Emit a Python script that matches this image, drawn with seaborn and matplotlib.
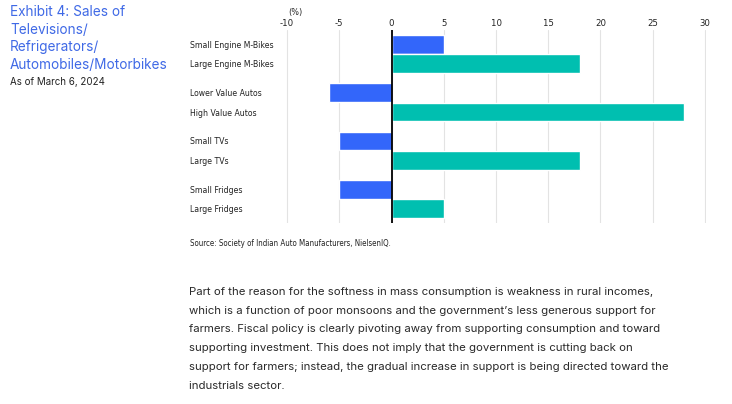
import pandas as pd
import matplotlib.pyplot as plt
import seaborn as sns

sns.set_style('white')
plt.rcParams['font.family'] = ['Inter', 'DejaVu Sans']
plt.rcParams['axes.unicode_minus'] = False

# Data read from the exhibit (% change)
groups = ['Motorbikes', 'Autos', 'TVs', 'Fridges']
sizes = ['Small', 'Large']
bar_labels = ['Small Engine M-Bikes', 'Large Engine M-Bikes',
              'Lower Value Autos', 'High Value Autos',
              'Small TVs', 'Large TVs',
              'Small Fridges', 'Large Fridges']
values = [5, 18, -6, 28, -5, 18, -5, 5]
x_ticks = [-10, -5, 0, 5, 10, 15, 20, 25, 30]

paragraph_lines = [
    "Part of the reason for the softness in mass consumption is weakness in rural incomes,",
    "which is a function of poor monsoons and the government\u2019s less generous support for",
    "farmers. Fiscal policy is clearly pivoting away from supporting consumption and toward",
    "supporting investment. This does not imply that the government is cutting back on",
    "support for farmers; instead, the gradual increase in support is being directed toward the",
    "industrials sector.",
]

df = pd.DataFrame({
    'group': [g for g in groups for s in sizes],
    'size': [s for g in groups for s in sizes],
    'label': bar_labels,
    'value': values,
})

blue = '#3366FA'
teal = '#00BFB0'
title_blue = '#3F69E6'
narrow = ['DejaVu Sans']

fig = plt.figure(figsize=(7.32, 4.04), dpi=100)
ax = fig.add_axes([286 / 732, 1 - 223 / 404, 420 / 732, 193 / 404])

sns.barplot(data=df, x='value', y='group', hue='size', order=groups,
            hue_order=sizes, palette={'Small': blue, 'Large': teal},
            orient='h', gap=0.03, saturation=1, legend=False, ax=ax)

# one tick label per bar, taken from the bars seaborn drew
lookup = {(g, s): l for g, s, l in zip(df['group'], df['size'], df['label'])}
pos, labs = [], []
i = 0
for s in sizes:
    for g in groups:
        p = ax.patches[i]
        pos.append(p.get_y() + p.get_height() / 2)
        labs.append(lookup[(g, s)])
        i += 1
ax.set_yticks(pos)
ax.set_yticklabels(labs)
for t in ax.get_yticklabels():
    t.set_ha('left')
    t.set_family(narrow)
    t.set_stretch('condensed')
ax.tick_params(axis='y', length=0, pad=69, labelsize=6.2, labelcolor='#222222')

ax.set_xlim(-10.1, 30.1)
ax.set_xticks(x_ticks)
ax.xaxis.tick_top()
ax.tick_params(axis='x', length=0, pad=1.5, labelsize=6.8, labelcolor='#222222')
for t in ax.get_xticklabels():
    t.set_family(narrow)
    t.set_stretch('condensed')
ax.grid(axis='x', color='#e3e3e3', lw=0.8)
ax.set_axisbelow(True)
ax.axvline(0, color='black', lw=1.3)
sns.despine(ax=ax, left=True, bottom=True, right=True, top=True)
ax.set_xlabel('')
ax.set_ylabel('')

fig.text(288 / 732, 1 - 12 / 404, '(%)', fontsize=6.5, color='#222222', va='center',
         family=narrow, stretch='condensed')
fig.text(190 / 732, 1 - 243 / 404, 'Source: Society of Indian Auto Manufacturers, NielsenIQ.',
         fontsize=5.65, color='#222222', va='center', family=narrow, stretch='condensed')

# title block on the left
fig.text(10 / 732, 1 - 5 / 404,
         'Exhibit 4: Sales of\nTelevisions/\nRefrigerators/\nAutomobiles/Motorbikes',
         fontsize=9.8, color=title_blue, va='top', linespacing=1.33)
fig.text(10 / 732, 1 - 82 / 404, 'As of March 6, 2024', fontsize=7, color='#222222', va='center')

# body text below the chart, one line at a time for even spacing
for k, line in enumerate(paragraph_lines):
    fig.text(189 / 732, 1 - (294.7 + 18.9 * k) / 404, line, fontsize=8.2,
             color='#2a2a2a', va='baseline')

fig.savefig('out.png', dpi=100)
